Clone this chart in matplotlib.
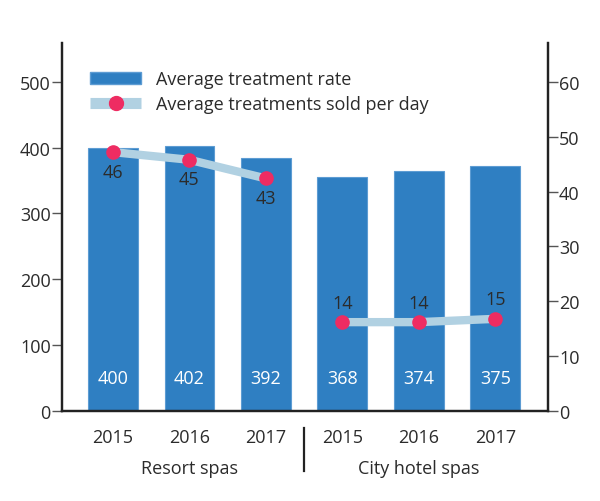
import matplotlib.pyplot as plt
from matplotlib.patches import Patch
from matplotlib.lines import Line2D

plt.rcParams['font.family'] = ['Open Sans', 'DejaVu Sans']

# data
years = ["2015", "2016", "2017", "2015", "2016", "2017"]
groups = ["Resort spas", "City hotel spas"]
rate_heights = [400, 403, 384, 356, 365, 372]
rate_labels = ["400", "402", "392", "368", "374", "375"]
sold_values = [47.2, 45.8, 42.4, 16.2, 16.2, 16.8]
sold_labels = ["46", "45", "43", "14", "14", "15"]

bar_color = '#2f7fc2'
line_color = '#b1d1e2'
dot_color = '#ee2c62'
text_color = '#2b2b2b'
fs = 13

fig = plt.figure(figsize=(6, 5.02), dpi=100)
ax = fig.add_axes([0.1033, 0.1793, 0.81, 0.7331])
ax2 = ax.twinx()

x = list(range(len(years)))
ax.bar(x, rate_heights, width=0.65, color=bar_color, edgecolor='#5d9cd3', linewidth=0.8)
for xi, lab in zip(x, rate_labels):
    ax.text(xi, 50, lab, ha='center', va='center', color='white', fontsize=fs)

# two separate line segments: resort and city
ax2.plot(x[:3], sold_values[:3], color=line_color, lw=6, solid_capstyle='butt', zorder=2)
ax2.plot(x[3:], sold_values[3:], color=line_color, lw=6, solid_capstyle='butt', zorder=2)
ax2.plot(x, sold_values, 'o', color=dot_color, ms=9.5, zorder=3)
for i, (xi, v, lab) in enumerate(zip(x, sold_values, sold_labels)):
    if i < 3:
        ax2.annotate(lab, (xi, v), xytext=(0, -14), textcoords='offset points',
                     ha='center', va='center', fontsize=fs, color=text_color)
    else:
        ax2.annotate(lab, (xi, v), xytext=(0, 14), textcoords='offset points',
                     ha='center', va='center', fontsize=fs, color=text_color)

ax.set_xlim(-0.667, 5.69)
ax.set_ylim(0, 559)
ax2.set_ylim(0, 67.1)
ax.set_yticks([0, 100, 200, 300, 400, 500])
ax2.set_yticks([0, 10, 20, 30, 40, 50, 60])

ax.set_xticks(x)
ax.set_xticklabels(years, fontsize=fs, color=text_color)
ax.tick_params(axis='x', length=0, pad=12)
ax.tick_params(axis='y', length=7, width=1, color='#555555', labelsize=fs, labelcolor=text_color, pad=1)
ax2.tick_params(axis='y', length=7, width=1, color='#555555', labelsize=fs, labelcolor=text_color, pad=1)

for a in (ax, ax2):
    a.spines['top'].set_visible(False)
    for s in ('left', 'right', 'bottom'):
        a.spines[s].set_linewidth(1.6)
        a.spines[s].set_color('#222222')

# group labels and separator
tr = ax.get_xaxis_transform()
ax.text(1, -0.155, groups[0], transform=tr, ha='center', va='center', fontsize=fs, color=text_color)
ax.text(4, -0.155, groups[1], transform=tr, ha='center', va='center', fontsize=fs, color=text_color)
ax.add_line(Line2D([2.5, 2.5], [-0.046, -0.163], transform=tr, color='#222222', lw=1.6, clip_on=False))

handles = [Patch(facecolor=bar_color, edgecolor='#5d9cd3'),
           Line2D([], [], color=line_color, lw=8, marker='o', ms=10,
                  markerfacecolor=dot_color, markeredgecolor=dot_color, solid_capstyle='butt')]
ax2.legend(handles, ["Average treatment rate", "Average treatments sold per day"],
           loc='upper left', bbox_to_anchor=(0.025, 0.97), frameon=False, fontsize=fs,
           handlelength=2.8, handleheight=0.65, handletextpad=0.85, labelspacing=0.4,
           labelcolor=text_color)

fig.savefig('out.png', dpi=100)
